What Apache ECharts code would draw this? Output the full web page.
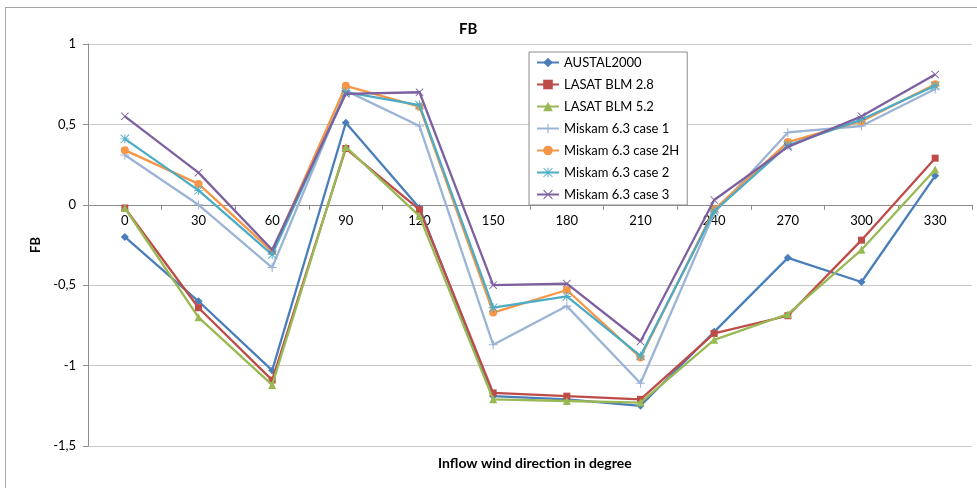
<!DOCTYPE html>
<html>
<head>
<meta charset="utf-8">
<script src="https://cdn.jsdelivr.net/npm/echarts@6/dist/echarts.min.js"></script>
<style>
html,body{margin:0;padding:0;background:#fff;}
#frame{position:absolute;left:5px;top:7px;width:980px;height:490px;border-left:1px solid #a6a6a6;border-top:1px solid #a6a6a6;}
#chart{position:absolute;left:0;top:0;width:977px;height:488px;}
</style>
</head>
<body>
<div id="frame"></div>
<div id="chart"></div>
<script>
const categories = ['0','30','60','90','120','150','180','210','240','270','300','330'];
const yTicks = [-1.5,-1,-0.5,0,0.5,1];
const austal   = [-0.20,-0.60,-1.03, 0.51,-0.02,-1.19,-1.21,-1.25,-0.79,-0.33,-0.48, 0.18];
const lasat28  = [-0.02,-0.64,-1.09, 0.35,-0.03,-1.17,-1.19,-1.21,-0.80,-0.69,-0.22, 0.29];
const lasat52  = [-0.02,-0.70,-1.12, 0.36,-0.07,-1.21,-1.22,-1.23,-0.84,-0.68,-0.28, 0.22];
const miskam1  = [ 0.31, 0.00,-0.39, 0.71, 0.49,-0.87,-0.63,-1.11,-0.05, 0.45, 0.49, 0.72];
const miskam2H = [ 0.34, 0.13,-0.29, 0.74, 0.61,-0.67,-0.53,-0.95,-0.03, 0.39, 0.52, 0.75];
const miskam2  = [ 0.41, 0.09,-0.31, 0.70, 0.62,-0.64,-0.57,-0.94,-0.04, 0.37, 0.53, 0.74];
const miskam3  = [ 0.55, 0.20,-0.28, 0.69, 0.70,-0.50,-0.49,-0.85, 0.03, 0.36, 0.55, 0.81];
const seriesNames = ['AUSTAL2000','LASAT BLM 2.8','LASAT BLM 5.2','Miskam 6.3 case 1','Miskam 6.3 case 2H','Miskam 6.3 case 2','Miskam 6.3 case 3'];

const plusPath = 'path://M4.4,0H5.6V4.4H10V5.6H5.6V10H4.4V5.6H0V4.4H4.4Z';
const xPath = 'path://M0,0.8L0.8,0L5,4.2L9.2,0L10,0.8L5.8,5L10,9.2L9.2,10L5,5.8L0.8,10L0,9.2L4.2,5Z';
const starPath = 'path://M4.5,0H5.5V10H4.5Z M0,4.5H10V5.5H0Z M0.7,0L10,9.3L9.3,10L0,0.7Z M9.3,0L10,0.7L0.7,10L0,9.3Z';

const FONT = 'Lato, "Open Sans", sans-serif';
const defs = [
  {data: austal,   color:'#4A7EBB', symbol:'diamond',  size:8},
  {data: lasat28,  color:'#BE4B48', symbol:'rect',     size:7},
  {data: lasat52,  color:'#98B954', symbol:'triangle', size:8},
  {data: miskam1,  color:'#9BB4D6', symbol:plusPath,   size:9},
  {data: miskam2H, color:'#F79646', symbol:'circle',   size:8},
  {data: miskam2,  color:'#4BACC6', symbol:starPath,   size:9},
  {data: miskam3,  color:'#7D60A0', symbol:xPath,      size:8}
];

const GRID = {left:88, right:5, top:44, bottom:42};
const Y_MIN = -1.5, Y_MAX = 1;
const gridH = 488 - GRID.top - GRID.bottom;
const zeroFromBottom = gridH * (0 - Y_MIN) / (Y_MAX - Y_MIN);

const chart = echarts.init(document.getElementById('chart'));
chart.setOption({
  animation:false,
  backgroundColor:'transparent',
  title:[
    {text:'FB', left:454, top:17, textStyle:{fontFamily:FONT, fontSize:15, fontWeight:'bold', color:'#000'}},
    {text:'Inflow wind direction in degree', left:433, top:451, textStyle:{fontFamily:FONT, fontSize:14, fontWeight:'bold', color:'#000'}}
  ],
  legend:{
    orient:'vertical', left:529, top:52,
    padding:[4,8,4,7],
    itemWidth:22, itemHeight:12, itemGap:9,
    backgroundColor:'#fff', borderColor:'#8c8c8c', borderWidth:1,
    textStyle:{fontFamily:FONT, fontSize:13, lineHeight:12, color:'#000'},
    data: seriesNames
  },
  grid:{left:GRID.left, right:GRID.right, top:GRID.top, bottom:GRID.bottom, containLabel:false},
  xAxis:{
    type:'category', data:categories, boundaryGap:true,
    offset: -zeroFromBottom,
    axisLine:{onZero:false, lineStyle:{color:'#8c8c8c', width:1}},
    axisTick:{show:true, alignWithLabel:false, length:5, lineStyle:{color:'#8c8c8c'}},
    axisLabel:{fontFamily:FONT, fontSize:13, color:'#000', margin:10},
    splitLine:{show:false}
  },
  yAxis:{
    type:'value', min:Y_MIN, max:Y_MAX, interval:0.5,
    name:'FB', nameLocation:'middle', nameGap:45, nameRotate:90,
    nameTextStyle:{fontFamily:FONT, fontSize:13, fontWeight:'bold', color:'#000'},
    axisLine:{show:true, lineStyle:{color:'#8c8c8c'}},
    axisTick:{show:true, length:5, lineStyle:{color:'#8c8c8c'}},
    axisLabel:{fontFamily:FONT, fontSize:13, color:'#000', margin:12,
      formatter: v => (yTicks.includes(v) ? String(v).replace('.', ',') : '')},
    splitLine:{show:true, lineStyle:{color:'#c8c8c8', width:1}}
  },
  series: defs.map((d,i)=>({
    name: seriesNames[i], type:'line', data:d.data,
    symbol:d.symbol, symbolSize:d.size, showSymbol:true,
    itemStyle:{color:d.color},
    lineStyle:{color:d.color, width:2.3},
    z: 2+i
  }))
});
</script>
</body>
</html>
